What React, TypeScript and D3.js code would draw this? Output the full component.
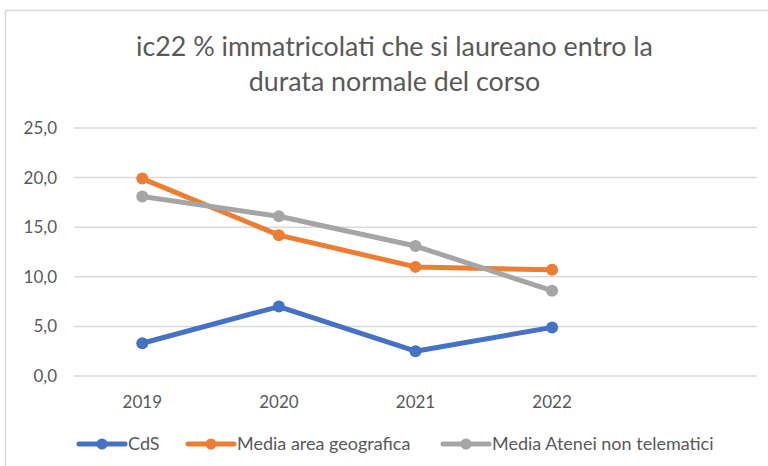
import React from "react";
import * as d3 from "d3";

const categories = ["2019", "2020", "2021", "2022", ""];
const years = ["2019", "2020", "2021", "2022"];
const cdsValues = [3.3, 7.0, 2.5, 4.9];
const areaValues = [19.9, 14.2, 11.0, 10.7];
const ateneiValues = [18.1, 16.1, 13.1, 8.6];
const yTicks = [0, 5, 10, 15, 20, 25];
const seriesNames = ["CdS", "Media area geografica", "Media Atenei non telematici"];
const seriesColors = ["#4472C4", "#ED7D31", "#A5A5A5"];
const titleLines = ["ic22 % immatricolati che si laureano entro la", "durata normale del corso"];

const W = 768;
const H = 466;
const FONT = "Lato, 'Open Sans', sans-serif";
const TEXT = "#595959";

export default function App() {
  const x = d3.scaleBand<string>().domain(categories).range([74, 757]);
  const y = d3.scaleLinear().domain([0, 25]).range([376, 128]);
  const fmt = (v: number) => d3.format(".1f")(v).replace(".", ",");
  const series = [cdsValues, areaValues, ateneiValues];
  const line = d3
    .line<number>()
    .x((_, i) => (x(years[i]) as number) + x.bandwidth() / 2)
    .y((d) => y(d));

  const legendX = [79, 188, 443];

  return (
    <svg
      width={W}
      height={H}
      style={{ position: "absolute", left: 0, top: 0, background: "#fff" }}
      fontFamily={FONT}
    >
      <rect x={0} y={0} width={W} height={H} fill="#fff" />
      <rect x={5.5} y={10.5} width={800} height={500} fill="#fff" stroke="#D9D9D9" strokeWidth={1.5} />
      <text x={394.5} y={56} textAnchor="middle" fontSize={26.8} fill={TEXT}>
        {titleLines[0]}
      </text>
      <text x={394.5} y={91} textAnchor="middle" fontSize={26.8} fill={TEXT}>
        {titleLines[1]}
      </text>
      {yTicks.map((t) => (
        <g key={t}>
          <line x1={74} x2={757} y1={y(t)} y2={y(t)} stroke="#D9D9D9" strokeWidth={1.5} />
          <text x={57} y={y(t)} dy="0.35em" textAnchor="end" fontSize={17} fill={TEXT}>
            {fmt(t)}
          </text>
        </g>
      ))}
      {categories.map((c) => (
        <text
          key={c || "empty"}
          x={(x(c) as number) + x.bandwidth() / 2}
          y={402}
          dy="0.35em"
          textAnchor="middle"
          fontSize={17}
          fill={TEXT}
        >
          {c}
        </text>
      ))}
      {series.map((s, si) => (
        <g key={si}>
          <path d={line(s) as string} fill="none" stroke={seriesColors[si]} strokeWidth={5} strokeLinejoin="round" strokeLinecap="round" />
          {s.map((v, i) => (
            <circle key={i} cx={(x(years[i]) as number) + x.bandwidth() / 2} cy={y(v)} r={6} fill={seriesColors[si]} />
          ))}
        </g>
      ))}
      {seriesNames.map((n, i) => (
        <g key={n} transform={`translate(${legendX[i]},444)`}>
          <line x1={0} x2={46} y1={0} y2={0} stroke={seriesColors[i]} strokeWidth={5} strokeLinecap="round" />
          <circle cx={23} cy={0} r={5.5} fill={seriesColors[i]} />
          <text x={49} y={0} dy="0.35em" fontSize={18} fill={TEXT}>
            {n}
          </text>
        </g>
      ))}
    </svg>
  );
}
